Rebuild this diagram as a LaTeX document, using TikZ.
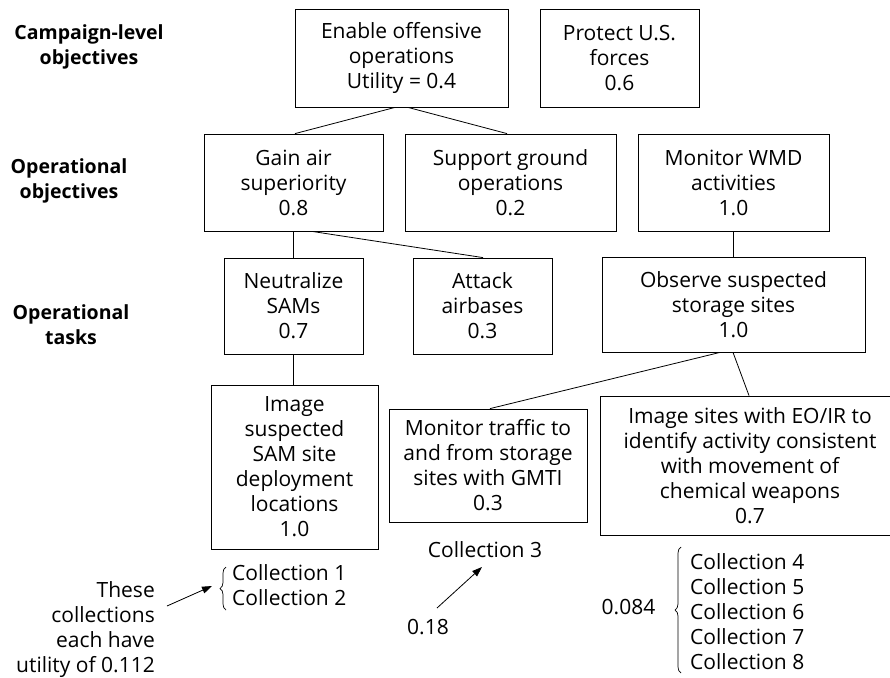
\documentclass[tikz,border=0pt]{standalone}
\usepackage{fontspec}
\setmainfont{Open Sans}
\usetikzlibrary{arrows.meta,decorations.pathreplacing}

\begin{document}
\begin{tikzpicture}[x=1pt,y=-1pt,
  every node/.style={font=\fontsize{21}{25}\selectfont},
  box/.style={draw, line width=0.8pt, inner sep=0pt, align=center},
  link/.style={line width=0.8pt},
  level/.style={font=\fontsize{19.5}{25}\selectfont\bfseries, align=center},
  note/.style={inner sep=0pt},
  pointer/.style={line width=0.8pt, -{Triangle[length=10pt,width=7pt]}},
  curly/.style={line width=0.7pt, decorate, decoration={brace, amplitude=6pt}}]
\useasboundingbox (0,0) rectangle (890,677);
\clip (0,0) rectangle (890,677);

% row labels
\node[level] (l1) at (89,47)  {Campaign-level\\objectives};
\node[level] (l2) at (69,181) {Operational\\objectives};
\node[level] (l3) at (71,325) {Operational\\tasks};

% campaign-level objectives
\node[box, minimum width=213, minimum height=98] (enable)  at (401.5,58) {Enable offensive\\operations\\Utility = 0.4};
\node[box, minimum width=159, minimum height=98] (protect) at (619.5,58) {Protect U.S.\\forces\\0.6};

% operational objectives
\node[box, minimum width=179, minimum height=97] (gain)    at (293.5,182.5) {Gain air\\superiority\\0.8};
\node[box, minimum width=211, minimum height=97] (support) at (510.5,182.5) {Support ground\\operations\\0.2};
\node[box, minimum width=191, minimum height=97] (wmd)     at (733.5,182.5) {Monitor WMD\\activities\\1.0};

% operational tasks
\node[box, minimum width=139, minimum height=96] (sams)    at (293.5,306) {Neutralize\\SAMs\\0.7};
\node[box, minimum width=139, minimum height=96] (attack)  at (482.5,306) {Attack\\airbases\\0.3};
\node[box, minimum width=263, minimum height=95] (observe) at (733.5,304.5) {Observe suspected\\storage sites\\1.0};

% collection tasks
\node[box, minimum width=167, minimum height=164] (imgsam)   at (294.5,467)  {Image\\suspected\\SAM site\\deployment\\locations\\1.0};
\node[box, minimum width=198, minimum height=113] (traffic)  at (488,465.5)  {Monitor traffic to\\and from storage\\sites with GMTI\\0.3};
\node[box, minimum width=300, minimum height=139] (imgsites) at (750,465.5)  {Image sites with EO/IR to\\identify activity consistent\\with movement of\\chemical weapons\\0.7};

% tree links
\draw[link] ([xshift=-6.5]enable.south) -- ([xshift=1.5]gain.north);
\draw[link] ([xshift=6.5]enable.south) -- ([xshift=-3.5]support.north);
\draw[link] ([xshift=-0.5]gain.south) -- ([xshift=-0.5]sams.north);
\draw[link] ([xshift=18.5]gain.south) -- ([xshift=0.5]attack.north);
\draw[link] ([xshift=-0.5]wmd.south) -- ([xshift=-0.5]observe.north);
\draw[link] ([xshift=-0.5]sams.south) -- ([xshift=-1.5]imgsam.north);
\draw[link] ([xshift=-13.5]observe.south) -- ([xshift=2]traffic.north);
\draw[link] ([xshift=-0.5]observe.south) -- ([xshift=-1]imgsites.north);

% collections under the SAM imagery task
\node[note, anchor=west, align=left] (c12) at (232,585.5) {Collection 1\\Collection 2};
\coordinate (b12top) at (226,567);
\coordinate (b12bot) at (226,610);
\draw[curly] (b12bot) -- (b12top);
\node[note, anchor=east, align=right] (these) at (155,630) {These\\collections\\each have\\utility of 0.112};
\coordinate (p12) at (212,586);
\coordinate (t12) at (167,606);
\draw[pointer] (t12) -- (p12);

% collection under the GMTI task
\node[note] (c3) at (485,550) {Collection 3};
\node[note] (v3) at (428,627) {0.18};
\coordinate (p3) at (482,567);
\coordinate (t3) at (437,608);
\draw[pointer] (t3) -- (p3);

% collections under the EO/IR task
\node[note, anchor=west, align=left] (c48) at (690,612) {Collection 4\\Collection 5\\Collection 6\\Collection 7\\Collection 8};
\coordinate (b48top) at (681,547);
\coordinate (b48bot) at (681,673);
\draw[curly] (b48bot) -- (b48top);
\node[note] (v48) at (628.5,607) {0.084};
\end{tikzpicture}
\end{document}
